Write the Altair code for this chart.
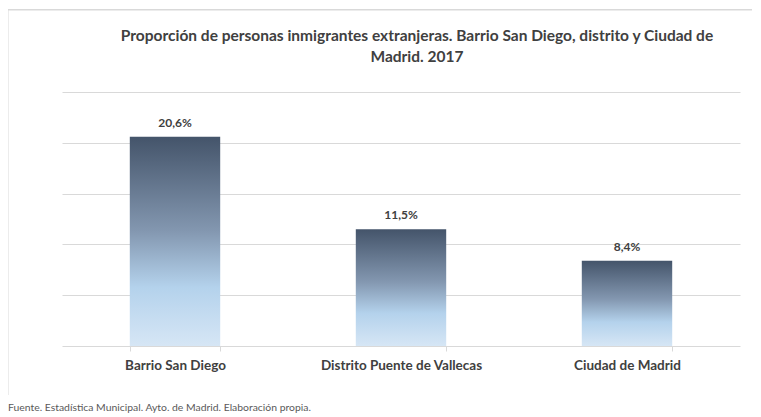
import altair as alt
import pandas as pd

categories = ["Barrio San Diego", "Distrito Puente de Vallecas", "Ciudad de Madrid"]
values = [20.6, 11.5, 8.4]
title_lines = ["Proporción de personas inmigrantes extranjeras. Barrio San Diego, distrito y Ciudad de", "Madrid. 2017"]
footer = "Fuente. Estadística Municipal. Ayto. de Madrid. Elaboración propia."

df = pd.DataFrame({"cat": categories, "val": values})

FONT = "Lato"
TXT = "#404040"
GRID = "#D9D9D9"

grad = alt.Gradient(
    gradient="linear",
    stops=[
        alt.GradientStop(color="#44546A", offset=0),
        alt.GradientStop(color="#8397B0", offset=0.45),
        alt.GradientStop(color="#B4D2EC", offset=0.72),
        alt.GradientStop(color="#D6E6F5", offset=1),
    ],
    x1=0, x2=0, y1=0, y2=1,
)

x = alt.X(
    "cat:N", sort=categories, title=None,
    scale=alt.Scale(paddingInner=0.6, paddingOuter=0.3),
    axis=alt.Axis(
        labelAngle=0, labelFont=FONT, labelFontWeight="bold", labelFontSize=13.5,
        labelColor=TXT, labelPadding=7, domainColor=GRID, tickColor=GRID,
        tickSize=5, tickBand="extent", grid=False,
    ),
)
y = alt.Y(
    "val:Q", title=None,
    scale=alt.Scale(domain=[0, 25], nice=False),
    axis=alt.Axis(values=[5, 10, 15, 20, 25], labels=False, ticks=False, domain=False,
                  gridColor=GRID, gridWidth=1),
)

base = alt.Chart(df)
bars = base.mark_bar(color=grad).encode(x=x, y=y)
labels = base.mark_text(
    font=FONT, fontWeight="bold", fontSize=12, color=TXT, dy=-10, baseline="alphabetic"
).transform_calculate(
    lab="replace(format(datum.val, '.1f'), '.', ',') + '%'"
).encode(x=alt.X("cat:N", sort=categories), y="val:Q", text="lab:N")

one = pd.DataFrame({"k": [0]})
border_left = alt.Chart(one).mark_rect(color=GRID).encode(
    x=alt.value(-55), x2=alt.value(-53.5), y=alt.value(-83), y2=alt.value(303)
)
border_top = alt.Chart(one).mark_rect(color=GRID).encode(
    x=alt.value(-55), x2=alt.value(690), y=alt.value(-83), y2=alt.value(-81.5)
)
title1 = alt.Chart(pd.DataFrame({"t": [title_lines[0]]})).mark_text(
    font=FONT, fontSize=15.5, fontWeight="bold", color=TXT, align="center", baseline="middle"
).encode(x=alt.value(355), y=alt.value(-56), text="t:N")
title2 = alt.Chart(pd.DataFrame({"t": [title_lines[1]]})).mark_text(
    font=FONT, fontSize=15.5, fontWeight="bold", color=TXT, align="center", baseline="middle"
).encode(x=alt.value(355), y=alt.value(-35), text="t:N")
foot = alt.Chart(pd.DataFrame({"t": [footer]})).mark_text(
    font=FONT, fontSize=10.4, color="#595959", align="left", baseline="middle"
).encode(x=alt.value(-54), y=alt.value(316), text="t:N")

chart = alt.layer(border_left, border_top, title1, title2, bars, labels, foot).properties(
    width=678, height=254,
    autosize=alt.AutoSizeParams(type="none"),
    padding={"left": 54, "top": 84, "right": 13, "bottom": 71},
).configure_view(stroke=None)

chart.save("out.html", embed_options={"renderer": "svg", "actions": False})
